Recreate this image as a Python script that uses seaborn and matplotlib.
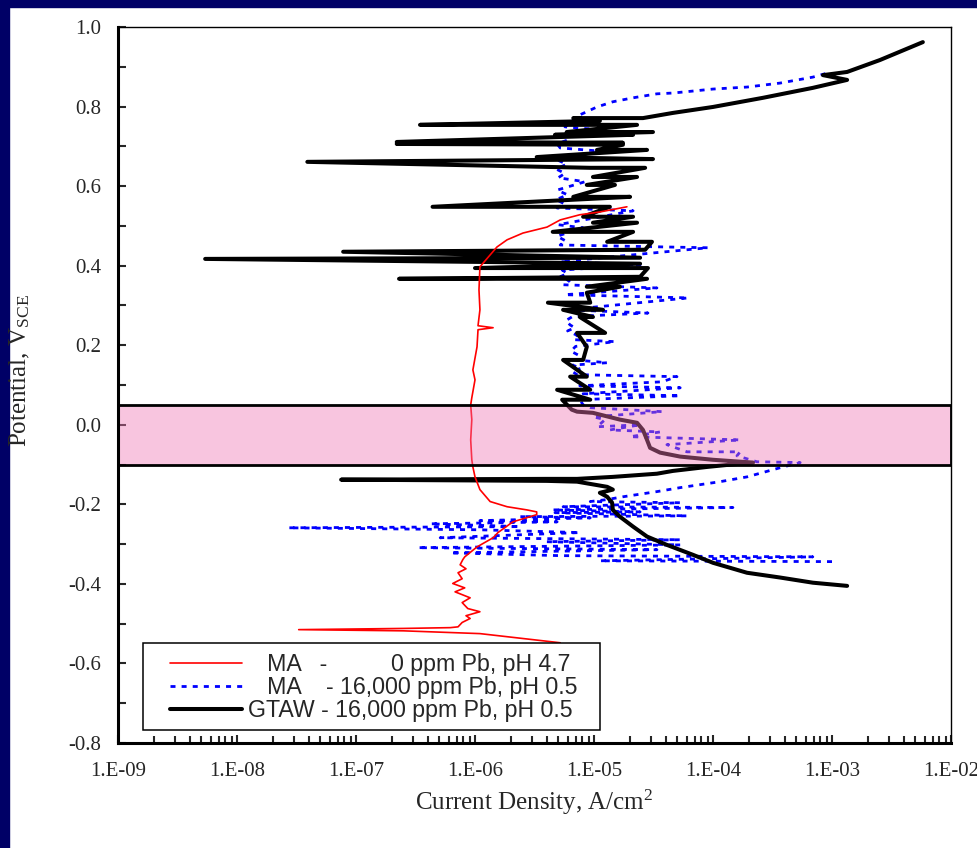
import matplotlib
matplotlib.use("Agg")
import matplotlib.pyplot as plt
import seaborn as sns
import numpy as np
import pandas as pd
from matplotlib.lines import Line2D
from matplotlib.patches import Rectangle
from matplotlib.ticker import MultipleLocator, FixedLocator

# ---------------------------------------------------------------
# values: (current density A/cm2, potential V_SCE), scan order

# MA - 0 ppm Pb, pH 4.7
ma_0ppm = [
    (5.2e-6, -0.548), (1.1e-6, -0.525), (2.5e-7, -0.518), (3.3e-8, -0.515), (2.5e-7, -0.512),
    (6.2e-7, -0.510), (7.2e-7, -0.508), (7.8e-7, -0.497), (9.1e-7, -0.487), (8.4e-7, -0.480),
    (1.1e-6, -0.470), (8.7e-7, -0.462), (7.8e-7, -0.447), (9.1e-7, -0.435), (6.8e-7, -0.420),
    (8.2e-7, -0.410), (6.5e-7, -0.399), (7.8e-7, -0.387), (7.2e-7, -0.372), (8.4e-7, -0.362),
    (7.5e-7, -0.352), (7.9e-7, -0.339), (8.2e-7, -0.332), (1.04e-6, -0.307), (1.42e-6, -0.284),
    (1.56e-6, -0.271), (2.08e-6, -0.244), (3.3e-6, -0.226), (3.3e-6, -0.219), (2.73e-6, -0.214),
    (1.86e-6, -0.206), (1.34e-6, -0.193), (1.1e-6, -0.163), (1.0e-6, -0.131), (9.6e-7, -0.106),
    (9.4e-7, -0.088), (9.2e-7, -0.038), (9.4e-7, 0.013), (9.2e-7, 0.050), (9.4e-7, 0.068),
    (1.0e-6, 0.113), (9.6e-7, 0.138), (1.04e-6, 0.196), (1.06e-6, 0.239), (1.42e-6, 0.244),
    (1.06e-6, 0.249), (1.1e-6, 0.289), (1.08e-6, 0.339), (1.1e-6, 0.397), (1.34e-6, 0.427),
    (1.53e-6, 0.447), (1.86e-6, 0.465), (2.53e-6, 0.482), (4.03e-6, 0.497), (5.2e-6, 0.515),
    (7.6e-6, 0.528), (1.12e-5, 0.535), (1.89e-5, 0.548),
]

# MA - 16,000 ppm Pb, pH 0.5
ma_16000ppm = [
    (1.0e-3, -0.344), (1.12e-5, -0.342), (6.9e-4, -0.332), (5.2e-6, -0.329), (6.2e-7, -0.322),
    (3.38e-5, -0.314), (3.3e-7, -0.309), (5.3e-5, -0.302), (4.0e-6, -0.294), (5.3e-5, -0.289),
    (5.1e-7, -0.284), (7.6e-6, -0.271), (1.1e-6, -0.264), (2.7e-8, -0.259), (2.39e-6, -0.256),
    (4.2e-7, -0.249), (4.9e-6, -0.244), (1.1e-6, -0.241), (9.3e-6, -0.234), (2.39e-6, -0.231),
    (6.05e-5, -0.229), (4.7e-6, -0.221), (2.44e-5, -0.219), (4.5e-6, -0.214), (1.47e-4, -0.208),
    (5.5e-6, -0.206), (5.3e-5, -0.196), (9.3e-6, -0.193), (1.29e-5, -0.188), (1.75e-5, -0.181),
    (3.38e-5, -0.168), (5.3e-5, -0.158), (1.15e-4, -0.143), (1.93e-4, -0.131), (3.66e-4, -0.108),
    (5.4e-4, -0.095), (2.34e-4, -0.093), (1.59e-4, -0.078), (1.69e-4, -0.068), (6.05e-5, -0.068),
    (4.1e-5, -0.050), (1.69e-4, -0.038), (2.01e-5, -0.030), (3.59e-5, -0.018), (1.36e-5, -0.013),
    (2.44e-5, 0.000), (1.06e-5, -0.005), (1.24e-5, 0.013), (9.8e-6, 0.020), (3.73e-5, 0.033),
    (9.3e-6, 0.043), (8.1e-6, 0.050), (7.6e-6, 0.063), (5.3e-5, 0.073), (8.1e-6, 0.078),
    (5.3e-5, 0.093), (7.6e-6, 0.098), (3.73e-5, 0.108), (4.98e-5, 0.121), (7.2e-6, 0.126),
    (6.5e-6, 0.135), (7.8e-6, 0.142), (6.6e-6, 0.150),
    (1.29e-5, 0.156), (6.9e-6, 0.163), (7.4e-6, 0.175), (6.4e-6, 0.185), (7.0e-6, 0.197),
    (1.5e-5, 0.209), (6.7e-6, 0.214), (7.2e-6, 0.225), (6.0e-6, 0.236), (6.9e-6, 0.244),
    (6.3e-6, 0.251), (5.8e-6, 0.262), (6.6e-6, 0.272),
    (2.84e-5, 0.281), (5.9e-6, 0.289), (6.2e-5, 0.319), (5.7e-6, 0.327), (3.38e-5, 0.344),
    (5.5e-6, 0.352), (6.2e-6, 0.362), (5.2e-6, 0.372), (6.0e-6, 0.381),
    (5.4e-6, 0.389), (2.44e-5, 0.402), (5.2e-6, 0.410), (9.1e-5, 0.445),
    (5.2e-6, 0.452), (5.8e-6, 0.462), (4.9e-6, 0.474), (6.3e-6, 0.485),
    (8.1e-6, 0.495), (5.0e-6, 0.503), (2.13e-5, 0.538), (4.9e-6, 0.545),
    (5.6e-6, 0.556), (4.8e-6, 0.566), (6.0e-6, 0.578),
    (4.9e-6, 0.590), (8.4e-6, 0.611), (5.0e-6, 0.621), (5.7e-6, 0.632), (4.8e-6, 0.643),
    (5.9e-6, 0.655), (4.9e-6, 0.666), (1.12e-5, 0.688),
    (5.2e-6, 0.696), (4.9e-6, 0.706), (6.0e-6, 0.716),
    (5.5e-6, 0.729), (1.19e-5, 0.741), (5.7e-6, 0.749), (6.7e-6, 0.766),
    (7.6e-6, 0.779), (1.06e-5, 0.799), (1.44e-5, 0.812), (2.13e-5, 0.822), (3.38e-5, 0.832),
    (4.6e-5, 0.834), (6.8e-5, 0.839), (1.0e-4, 0.844), (1.93e-4, 0.849), (3.66e-4, 0.859),
    (6.9e-4, 0.874), (9.1e-4, 0.884),
]

# GTAW - 16,000 ppm Pb, pH 0.5
gtaw_16000ppm = [
    (1.34e-3, -0.405), (6.9e-4, -0.397), (3.66e-4, -0.384), (1.93e-4, -0.372), (1.0e-4, -0.347),
    (6.8e-5, -0.327), (4.1e-5, -0.302), (2.79e-5, -0.281), (2.13e-5, -0.256), (1.65e-5, -0.231),
    (1.44e-5, -0.214), (1.42e-5, -0.196), (1.29e-5, -0.181), (1.12e-5, -0.171), (1.44e-5, -0.163),
    (1.29e-5, -0.156), (7.2e-6, -0.143), (4.0e-6, -0.141), (7.5e-8, -0.138), (4.0e-6, -0.136),
    (7.2e-6, -0.136), (1.44e-5, -0.131), (3.38e-5, -0.123), (4.6e-5, -0.116), (8.9e-5, -0.106),
    (1.31e-4, -0.101), (2.17e-4, -0.095), (1.0e-4, -0.088), (5.3e-5, -0.080), (3.59e-5, -0.070),
    (2.96e-5, -0.058), (2.79e-5, -0.038), (2.58e-5, -0.013), (2.3e-5, 0.005), (1.65e-5, 0.013),
    (9.8e-6, 0.030), (7.2e-6, 0.033), (6.5e-6, 0.038), (5.4e-6, 0.063), (9.3e-6, 0.063),
    (4.9e-6, 0.088), (9.3e-6, 0.088), (6.3e-6, 0.121), (8.7e-6, 0.121), (5.5e-6, 0.163),
    (8.1e-6, 0.163), (8.7e-6, 0.196), (7.2e-6, 0.231), (1.24e-5, 0.231), (7.6e-6, 0.271),
    (9.8e-6, 0.271), (5.5e-6, 0.289), (1.19e-5, 0.289), (4.1e-6, 0.307), (9.3e-6, 0.307),
    (8.7e-6, 0.332), (1.65e-5, 0.347), (8.7e-6, 0.347), (2.79e-5, 0.367), (2.3e-7, 0.367),
    (2.44e-5, 0.372), (2.84e-5, 0.394), (1.0e-6, 0.394), (2.44e-5, 0.405), (5.4e-9, 0.417),
    (2.44e-5, 0.420), (7.8e-8, 0.435), (2.69e-5, 0.440), (3.07e-5, 0.460), (1.29e-5, 0.460),
    (2.13e-5, 0.485), (4.5e-6, 0.485), (2.3e-5, 0.508), (9.8e-6, 0.508), (2.13e-5, 0.523),
    (8.1e-6, 0.523), (1.36e-5, 0.548), (4.4e-7, 0.548), (2.01e-5, 0.573), (6.7e-6, 0.573),
    (1.5e-5, 0.603), (8.7e-6, 0.603), (2.3e-5, 0.623), (9.8e-6, 0.623), (2.69e-5, 0.646),
    (9.3e-6, 0.646), (3.9e-8, 0.661), (3.13e-5, 0.668), (3.3e-6, 0.673), (2.79e-5, 0.691),
    (1.06e-5, 0.691), (1.75e-5, 0.704), (2.2e-7, 0.706), (1.75e-5, 0.709), (2.2e-7, 0.711),
    (2.13e-5, 0.729), (4.7e-6, 0.729), (3.13e-5, 0.736), (5.9e-6, 0.736), (2.3e-5, 0.754),
    (3.45e-7, 0.754), (1.12e-5, 0.764), (6.7e-6, 0.771), (2.58e-5, 0.771), (4.6e-5, 0.784),
    (1.0e-4, 0.799), (2.63e-4, 0.822), (6.9e-4, 0.847), (1.34e-3, 0.867), (8.4e-4, 0.879),
    (1.34e-3, 0.887), (2.53e-3, 0.917), (5.8e-3, 0.962),
]

legend_labels = [
    "   MA   -          0 ppm Pb, pH 4.7",
    "   MA    - 16,000 ppm Pb, pH 0.5",
    "GTAW - 16,000 ppm Pb, pH 0.5",
]

x_tick_values = [1e-9, 1e-8, 1e-7, 1e-6, 1e-5, 1e-4, 1e-3, 1e-2]
x_tick_labels = ["1.E-09", "1.E-08", "1.E-07", "1.E-06", "1.E-05", "1.E-04", "1.E-03", "1.E-02"]
y_tick_values = [-0.8, -0.6, -0.4, -0.2, 0.0, 0.2, 0.4, 0.6, 0.8, 1.0]
y_tick_labels = ["-0.8", "-0.6", "-0.4", "-0.2", "0.0", "0.2", "0.4", "0.6", "0.8", "1.0"]

# shaded potential window
band_low, band_high = -0.10, 0.05

# ---------------------------------------------------------------

sns.set_style("ticks")
plt.rcParams.update({
    "font.family": "serif",
    "font.serif": ["Liberation Serif", "DejaVu Serif"],
    "mathtext.fontset": "custom",
    "mathtext.rm": "Liberation Serif",
    "mathtext.it": "Liberation Serif:italic",
    "axes.unicode_minus": False,
})

W, H = 977, 848
fig = plt.figure(figsize=(W / 100, H / 100), dpi=100, facecolor="white")
ax = fig.add_axes([118 / W, 1 - 743 / H, 833 / W, 716 / H])
ax.set_facecolor("white")
ax.set_xscale("log")

# navy slide border (left and top)
fig.add_artist(Rectangle((0, 0), 9 / W, 1, transform=fig.transFigure, color="#000066", zorder=0))
fig.add_artist(Rectangle((0, 1 - 7 / H), 1, 7 / H, transform=fig.transFigure, color="#000066", zorder=0))


def to_frame(points):
    return pd.DataFrame(points, columns=["current", "potential"])


sns.lineplot(data=to_frame(ma_16000ppm), x="current", y="potential", sort=False, estimator=None,
             ax=ax, color="#0000ff", lw=2.0, linestyle=(0, (1.8, 2.2)), legend=False, zorder=2)
sns.lineplot(data=to_frame(gtaw_16000ppm), x="current", y="potential", sort=False, estimator=None,
             ax=ax, color="black", lw=2.9, solid_capstyle="round", solid_joinstyle="round",
             legend=False, zorder=3)
sns.lineplot(data=to_frame(ma_0ppm), x="current", y="potential", sort=False, estimator=None,
             ax=ax, color="#ff0000", lw=1.2, legend=False, zorder=4)

ax.axhspan(band_low, band_high, facecolor=(0.94, 0.46, 0.71, 0.42), edgecolor="black",
           lw=2.0, zorder=5)

ax.set_xlim(1e-9, 1e-2)
ax.set_ylim(-0.8, 1.0)
ax.set_xticks(x_tick_values)
ax.set_xticklabels(x_tick_labels)
ax.yaxis.set_major_locator(FixedLocator(y_tick_values))
ax.set_yticklabels(y_tick_labels)
ax.yaxis.set_minor_locator(MultipleLocator(0.1))

ax.tick_params(which="both", direction="in", top=False, right=False, labelsize=15, width=1.5)
ax.tick_params(axis="x", which="major", length=6, pad=14)
ax.tick_params(axis="x", which="minor", length=5)
ax.tick_params(axis="y", which="both", length=6, pad=12)

for side in ["left", "bottom"]:
    ax.spines[side].set_linewidth(2.2)
for side in ["top", "right"]:
    ax.spines[side].set_linewidth(1.0)
for s in ax.spines.values():
    s.set_color("black")
    s.set_zorder(6)

ax.set_xlabel("Current Density, A/cm$^{2}$", fontsize=18)
ax.set_ylabel("Potential, V$_{\\mathrm{SCE}}$", fontsize=18)
ax.xaxis.set_label_coords(0.5, -0.062)
ax.yaxis.set_label_coords(-0.103, 0.52)

# legend: frame drawn separately so the box matches the original padding
ax.add_patch(Rectangle((0.030, 0.018), 0.549, 0.1215, transform=ax.transAxes,
                       facecolor="white", edgecolor="black", lw=1.1, zorder=9))
handles = [
    Line2D([], [], color="#ff0000", lw=1.2),
    Line2D([], [], color="#0000ff", lw=2.0, linestyle=(0, (1.8, 2.2))),
    Line2D([], [], color="black", lw=2.9),
]
leg = ax.legend(handles, legend_labels, loc="upper left",
                bbox_to_anchor=((170 - 118) / 833, (743 - 653) / 716),
                prop={"family": "Liberation Sans", "size": 16.7}, frameon=False,
                borderpad=0, labelspacing=0.0, handlelength=3.1, handletextpad=0.26,
                borderaxespad=0)
leg.set_zorder(10)

fig.savefig("out.png", dpi=100, facecolor="white")
